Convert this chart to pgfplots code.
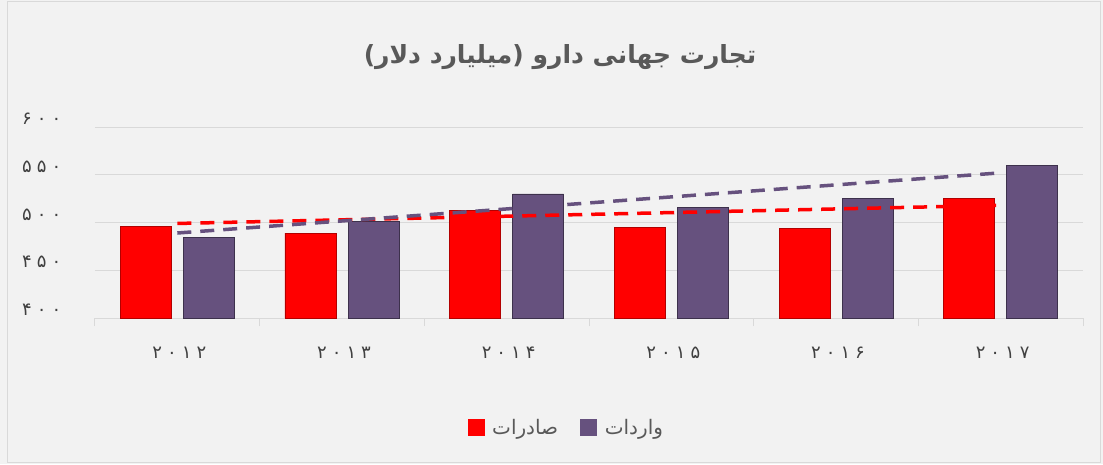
\documentclass[border=0pt]{standalone}
\usepackage{fontspec}
\usepackage{pgfplots}
\pgfplotsset{compat=1.18}
\TeXXeTstate=1
\newfontfamily\fa[Script=Arabic]{DejaVu Sans}
\newfontfamily\fadig[Script=Arabic, LetterSpace=28]{DejaVu Sans}
\definecolor{bg}{HTML}{F2F2F2}
\definecolor{txt}{HTML}{595959}
\definecolor{dig}{HTML}{404040}
\definecolor{expc}{HTML}{FF0000}
\definecolor{impc}{HTML}{66517E}
\definecolor{gridc}{HTML}{D9D9D9}
\begin{document}
\begin{tikzpicture}[x=1pt,y=1pt]
\fill[bg] (0,0) rectangle (1103,464);
\draw[gridc, line width=1pt] (7,2) rectangle (1100,462);
\node[font=\fa\bfseries\fontsize{25}{30}\selectfont, text=txt] at (560,407) {\beginR تجارت جهانی دارو (میلیارد دلار)\endR};
\begin{axis}[
  at={(95pt,146pt)}, anchor=south west,
  scale only axis, width=988pt, height=191pt,
  xmin=-0.5, xmax=5.5, ymin=400, ymax=600,
  ybar,
  axis x line=bottom, axis y line=left,
  x axis line style={gridc, line width=1pt, -},
  y axis line style={draw=none},
  ytick={400,450,500,550,600},
  yticklabels={۴۰۰,۴۵۰,۵۰۰,۵۵۰,۶۰۰},
  ymajorgrids, grid style={gridc, line width=1pt},
  major y tick style={draw=none},
  yticklabel style={font=\fadig\fontsize{18}{20}\selectfont, text=dig, xshift=-26pt, yshift=8pt},
  xtick={0,1,2,3,4,5},
  xticklabels={۲۰۱۲,۲۰۱۳,۲۰۱۴,۲۰۱۵,۲۰۱۶,۲۰۱۷},
  major x tick style={draw=none},
  minor xtick={-0.5,0.5,1.5,2.5,3.5,4.5,5.5},
  minor tick length=8pt, tick align=outside,
  minor x tick style={gridc, line width=1pt},
  xticklabel style={font=\fadig\fontsize{18}{20}\selectfont, text=dig, yshift=-21pt, xshift=2pt},
  legend style={at={(0.477,-0.576)}, anchor=center, draw=none, fill=none,
    font=\fa\fontsize{20}{24}\selectfont, text=txt, legend columns=2,
    /tikz/every odd column/.append style={column sep=6pt},
    /tikz/every even column/.append style={column sep=20pt}},
]
\addplot[bar width=51pt, bar shift=-31.5pt, fill=expc, draw=expc!70!black, line width=0.6pt,
  legend image code/.code={\fill[expc] (0pt,-7pt) rectangle (16pt,9pt);}]
  coordinates {(0,496) (1,489) (2,513) (3,495) (4,494) (5,525)};
\addlegendentry{\beginR صادرات\endR}
\addplot[bar width=51pt, bar shift=31.5pt, fill=impc, draw=impc!60!black, line width=0.6pt,
  legend image code/.code={\fill[impc] (0pt,-7pt) rectangle (16pt,9pt);}]
  coordinates {(0,484) (1,501) (2,530) (3,516) (4,525) (5,560)};
\addlegendentry{\beginR واردات\endR}
\addplot[sharp plot, forget plot, expc, line width=3.5pt, dash pattern=on 14pt off 9pt]
  coordinates {(0,499) (5,518)};
\addplot[sharp plot, forget plot, impc, line width=3.5pt, dash pattern=on 14pt off 9pt]
  coordinates {(0,489) (5,552)};
\end{axis}
\end{tikzpicture}
\end{document}
